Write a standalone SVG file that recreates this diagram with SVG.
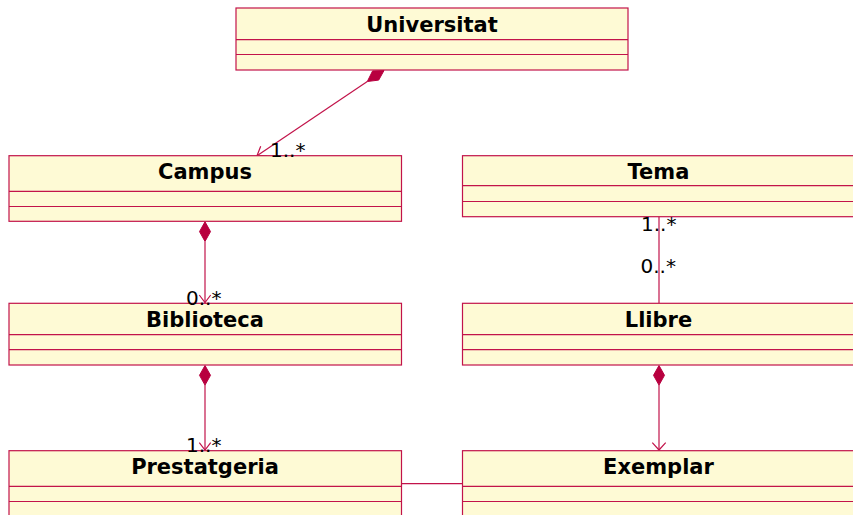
<svg xmlns="http://www.w3.org/2000/svg" width="853" height="515" viewBox="0 0 853 515">
<style>
.box{fill:#FEFAD5;stroke:#C2134A;stroke-width:1.2}
.sep{stroke:#C2134A;stroke-width:1.2}
.name{font-family:"DejaVu Sans",sans-serif;font-weight:bold;font-size:21px;fill:#000;text-anchor:middle}
.lbl{font-family:"DejaVu Sans",sans-serif;font-size:20px;fill:#000}
.ln{stroke:#C2134A;stroke-width:1.2;fill:none}
.dia{fill:#B8003F;stroke:#B8003F;stroke-width:1}
</style>
<rect width="853" height="515" fill="#FFFFFF"/>
<g id="connectors">
  <polygon class="dia" points="384,70.5 378.7,80.1 367.3,81.5 372.6,70.9"/>
  <line class="ln" x1="367.3" y1="81.5" x2="257" y2="155.7"/>
  <polyline class="ln" points="260.7,146.2 257,155.7 267,156"/>
  <polygon class="dia" points="205,221.8 210.5,231.6 205,241.4 199.5,231.6"/>
  <line class="ln" x1="205" y1="241.4" x2="205" y2="303"/>
  <polyline class="ln" points="199.3,295 205,302.5 210.7,295"/>
  <polygon class="dia" points="205,365.5 210.5,375.3 205,385.1 199.5,375.3"/>
  <line class="ln" x1="205" y1="385.1" x2="205" y2="450.5"/>
  <polyline class="ln" points="199.3,442.7 205,450 210.7,442.7"/>
  <polygon class="dia" points="659,365.5 664.5,375.3 659,385.1 653.5,375.3"/>
  <line class="ln" x1="659" y1="385.1" x2="659" y2="450.5"/>
  <polyline class="ln" points="652.3,442.7 659,450 665.7,442.7"/>
  <line class="ln" x1="659" y1="216.7" x2="659" y2="303.3"/>
  <line class="ln" x1="401.7" y1="483.7" x2="462.7" y2="483.7"/>
</g>
<g id="Universitat">
  <rect class="box" x="236" y="8" width="392" height="62"/>
  <line class="sep" x1="236" y1="39.7" x2="628" y2="39.7"/>
  <line class="sep" x1="236" y1="54.5" x2="628" y2="54.5"/>
  <text class="name" x="432" y="32">Universitat</text>
</g>
<g id="Campus">
  <rect class="box" x="9" y="155.7" width="392.5" height="65.6"/>
  <line class="sep" x1="9" y1="191.3" x2="401.5" y2="191.3"/>
  <line class="sep" x1="9" y1="206.5" x2="401.5" y2="206.5"/>
  <text class="name" x="205" y="179.3">Campus</text>
</g>
<g id="Tema">
  <rect class="box" x="462.5" y="155.7" width="392.5" height="61"/>
  <line class="sep" x1="462.5" y1="185.7" x2="855" y2="185.7"/>
  <line class="sep" x1="462.5" y1="201.5" x2="855" y2="201.5"/>
  <text class="name" x="658.5" y="179.3">Tema</text>
</g>
<g id="Biblioteca">
  <rect class="box" x="9" y="303.3" width="392.5" height="61.7"/>
  <line class="sep" x1="9" y1="334.7" x2="401.5" y2="334.7"/>
  <line class="sep" x1="9" y1="349.7" x2="401.5" y2="349.7"/>
  <text class="name" x="205" y="327.3">Biblioteca</text>
</g>
<g id="Llibre">
  <rect class="box" x="462.5" y="303.3" width="392.5" height="61.7"/>
  <line class="sep" x1="462.5" y1="334.7" x2="855" y2="334.7"/>
  <line class="sep" x1="462.5" y1="349.7" x2="855" y2="349.7"/>
  <text class="name" x="658.5" y="327.3">Llibre</text>
</g>
<g id="Prestatgeria">
  <rect class="box" x="9" y="450.7" width="392.5" height="67"/>
  <line class="sep" x1="9" y1="486.3" x2="401.5" y2="486.3"/>
  <line class="sep" x1="9" y1="501.5" x2="401.5" y2="501.5"/>
  <text class="name" x="205" y="474.3">Prestatgeria</text>
</g>
<g id="Exemplar">
  <rect class="box" x="462.5" y="450.7" width="392.5" height="67"/>
  <line class="sep" x1="462.5" y1="486.3" x2="855" y2="486.3"/>
  <line class="sep" x1="462.5" y1="501.5" x2="855" y2="501.5"/>
  <text class="name" x="658.5" y="474.3">Exemplar</text>
</g>
<g id="labels">
  <text class="lbl" x="270" y="157">1..*</text>
  <text class="lbl" x="186" y="305">0..*</text>
  <text class="lbl" x="186" y="452">1..*</text>
  <text class="lbl" x="641" y="230.7">1..*</text>
  <text class="lbl" x="640.5" y="273.3">0..*</text>
</g>
</svg>
